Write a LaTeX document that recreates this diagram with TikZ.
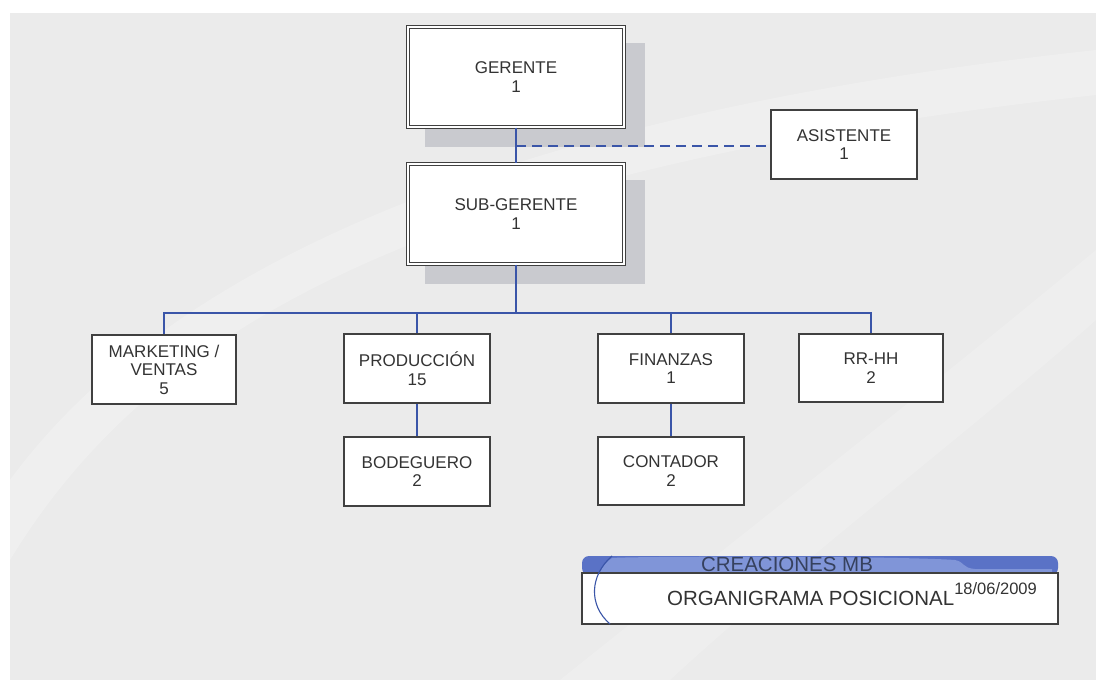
\documentclass[tikz,border=0pt]{standalone}
\usepackage{fontspec}
\setmainfont{Liberation Sans}
\begin{document}
\begin{tikzpicture}[x=1pt,y=-1pt,
  every node/.style={font=\fontsize{17}{18.5}\selectfont, text=black!80},
  post/.style={draw=black!75, line width=1.3pt, fill=white, align=center,
    inner sep=0pt, minimum width=146pt, minimum height=69pt},
  headpost/.style={post, double=white, double distance=2.2pt, line width=1.1pt,
    minimum width=216pt, minimum height=100pt},
  link/.style={draw=linkblue, line width=1.4pt},
  dashlink/.style={link, dashed, dash pattern=on 10pt off 6pt}
]
\definecolor{slidegray}{HTML}{EBEBEB}
\definecolor{shadowgray}{HTML}{C9CACF}
\definecolor{bandcol}{HTML}{5A72C6}
\definecolor{bandlight}{HTML}{8095D8}
\definecolor{titletext}{HTML}{36415E}
\definecolor{linkblue}{HTML}{3A55A8}

% page and slide background
\useasboundingbox (0,0) rectangle (1109,687);
\fill[white] (0,0) rectangle (1109,687);
\fill[slidegray] (10,13) rectangle (1096,680);
\fill[white, opacity=0.22] (10,560) .. controls (150,330) and (420,170) .. (1096,95)
  -- (1096,50) .. controls (450,120) and (150,290) .. (10,480) -- cycle;
\fill[white, opacity=0.18] (560,680) .. controls (760,520) and (940,380) .. (1096,250)
  -- (1096,320) .. controls (960,440) and (800,560) .. (670,680) -- cycle;

% shadows behind the two top posts
\fill[shadowgray] (425,43) rectangle (645,147);
\fill[shadowgray] (425,180) rectangle (645,284);

% posts
\node[headpost] (ger) at (516,77) {GERENTE\\1};
\node[headpost] (sub) at (516,214) {SUB-GERENTE\\1};
\node[post] (asi) at (844,144.5) {ASISTENTE\\1};
\node[post, minimum width=144pt] (mkt) at (164,369.5) {MARKETING /\\VENTAS\\5};
\node[post] (pro) at (417,368.5) {PRODUCCIÓN\\15};
\node[post] (fin) at (671,368.5) {FINANZAS\\1};
\node[post, minimum width=144pt, minimum height=68pt] (rrhh) at (871,368) {RR-HH\\2};
\node[post] (bod) at (417,471.5) {BODEGUERO\\2};
\node[post, minimum height=68pt] (con) at (671,471) {CONTADOR\\2};

% connectors
\coordinate (bus) at (516,313);
\coordinate (tap) at (516,146);
\draw[link] (ger.south) -- (sub.north);
\draw[dashlink] (tap) -- (asi.west |- tap);
\draw[link] (sub.south) -- (bus);
\draw[link] (mkt.north) |- (bus) -| (rrhh.north);
\draw[link] (pro.north) -- (pro.north |- bus);
\draw[link] (fin.north) -- (fin.north |- bus);
\draw[link] (pro.south) -- (bod.north);
\draw[link] (fin.south) -- (con.north);

% title block
\fill[bandcol, rounded corners=7pt] (582,575) -- (582,556) -- (1058,556) -- (1058,575) -- cycle;
\fill[bandlight] (612,558) .. controls (640,556) and (900,556) .. (955,560)
  .. controls (965,562) and (962,568) .. (975,569) -- (1052,569)
  -- (1052,572) -- (600,572) .. controls (603,566) and (607,561) .. (612,558) -- cycle;
\node[draw=black!75, line width=1.3pt, fill=white, minimum width=476pt,
  minimum height=51pt, inner sep=0pt] (tbox) at (820,598.5) {};
\draw[linkblue, line width=1.1pt] (612,556) .. controls (590,575) and (588,605) .. (610,624);
\node[font=\fontsize{20.5}{22}\selectfont, text=titletext] (firm) at (787,564.5) {CREACIONES MB};
\node[font=\fontsize{20.5}{22}\selectfont, anchor=base west, inner sep=0pt] (ttl) at (667,605)
  {ORGANIGRAMA POSICIONAL\raisebox{11pt}{\fontsize{16.5}{16.5}\selectfont 18/06/2009}};
\end{tikzpicture}
\end{document}
